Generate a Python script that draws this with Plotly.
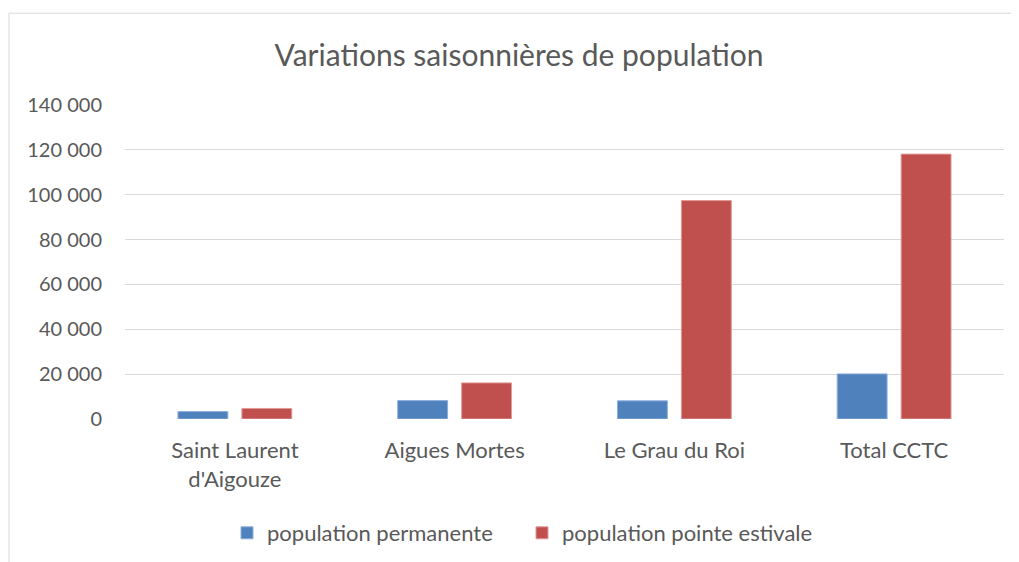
import plotly.graph_objects as go

# ── Data ─────────────────────────────────────────────────────────────
communes = ["Saint Laurent<br>d'Aigouze", "Aigues Mortes", "Le Grau du Roi", "Total CCTC"]
pop_permanente = [3300, 8200, 8100, 20100]
pop_pointe = [4700, 16100, 97400, 118100]
y_ticks = [0, 20000, 40000, 60000, 80000, 100000, 120000, 140000]

FONT = "Lato, Calibri, sans-serif"
GREY = "#595959"

# page body has an 8px margin, so the figure is drawn 8px smaller
W, H = 1011, 554

fig = go.Figure()
fig.add_trace(go.Bar(
    x=communes, y=pop_permanente, name="population permanente",
    marker=dict(color="#4F81BD", line=dict(color="#8EAEDB", width=1)),
))
fig.add_trace(go.Bar(
    x=communes, y=pop_pointe, name="population pointe estivale",
    marker=dict(color="#C0504D", line=dict(color="#E09A98", width=1)),
))

# chart frame (Excel-style border, runs off the right/bottom of the view)
fig.add_shape(type="rect", xref="paper", yref="paper",
              x0=-0.1320, x1=1.2, y0=-0.7, y1=1.2923,
              line=dict(color="#d9d9d9", width=1), layer="below")

fig.update_layout(
    width=W, height=H,
    margin=dict(l=117, r=15, t=97, b=143),
    paper_bgcolor="#ffffff", plot_bgcolor="#ffffff",
    separators=", ",
    font=dict(family=FONT, color=GREY, size=20),
    title=dict(text="Variations saisonnières de population",
               x=511 / W, xref="container", xanchor="center",
               y=1 - 47 / H, yref="container", yanchor="middle",
               font=dict(family=FONT, size=30, color=GREY)),
    barmode="group", bargap=0.418, bargroupgap=0.22,
    xaxis=dict(showgrid=False, showline=False, zeroline=False,
               ticklabelstandoff=16, tickfont=dict(size=22)),
    yaxis=dict(range=[0, 140000], tickvals=y_ticks, tickformat=",d",
               gridcolor="#d9d9d9", gridwidth=1, zeroline=False, showline=False,
               ticklabelstandoff=22, tickfont=dict(size=20)),
    legend=dict(orientation="h", xref="container", yref="container",
                x=(522 - 8) / W, xanchor="center",
                y=1 - (533 - 8) / H, yanchor="middle",
                itemwidth=30, entrywidth=250,
                font=dict(size=22, color=GREY)),
    showlegend=True,
)

fig.write_html("out.html")
